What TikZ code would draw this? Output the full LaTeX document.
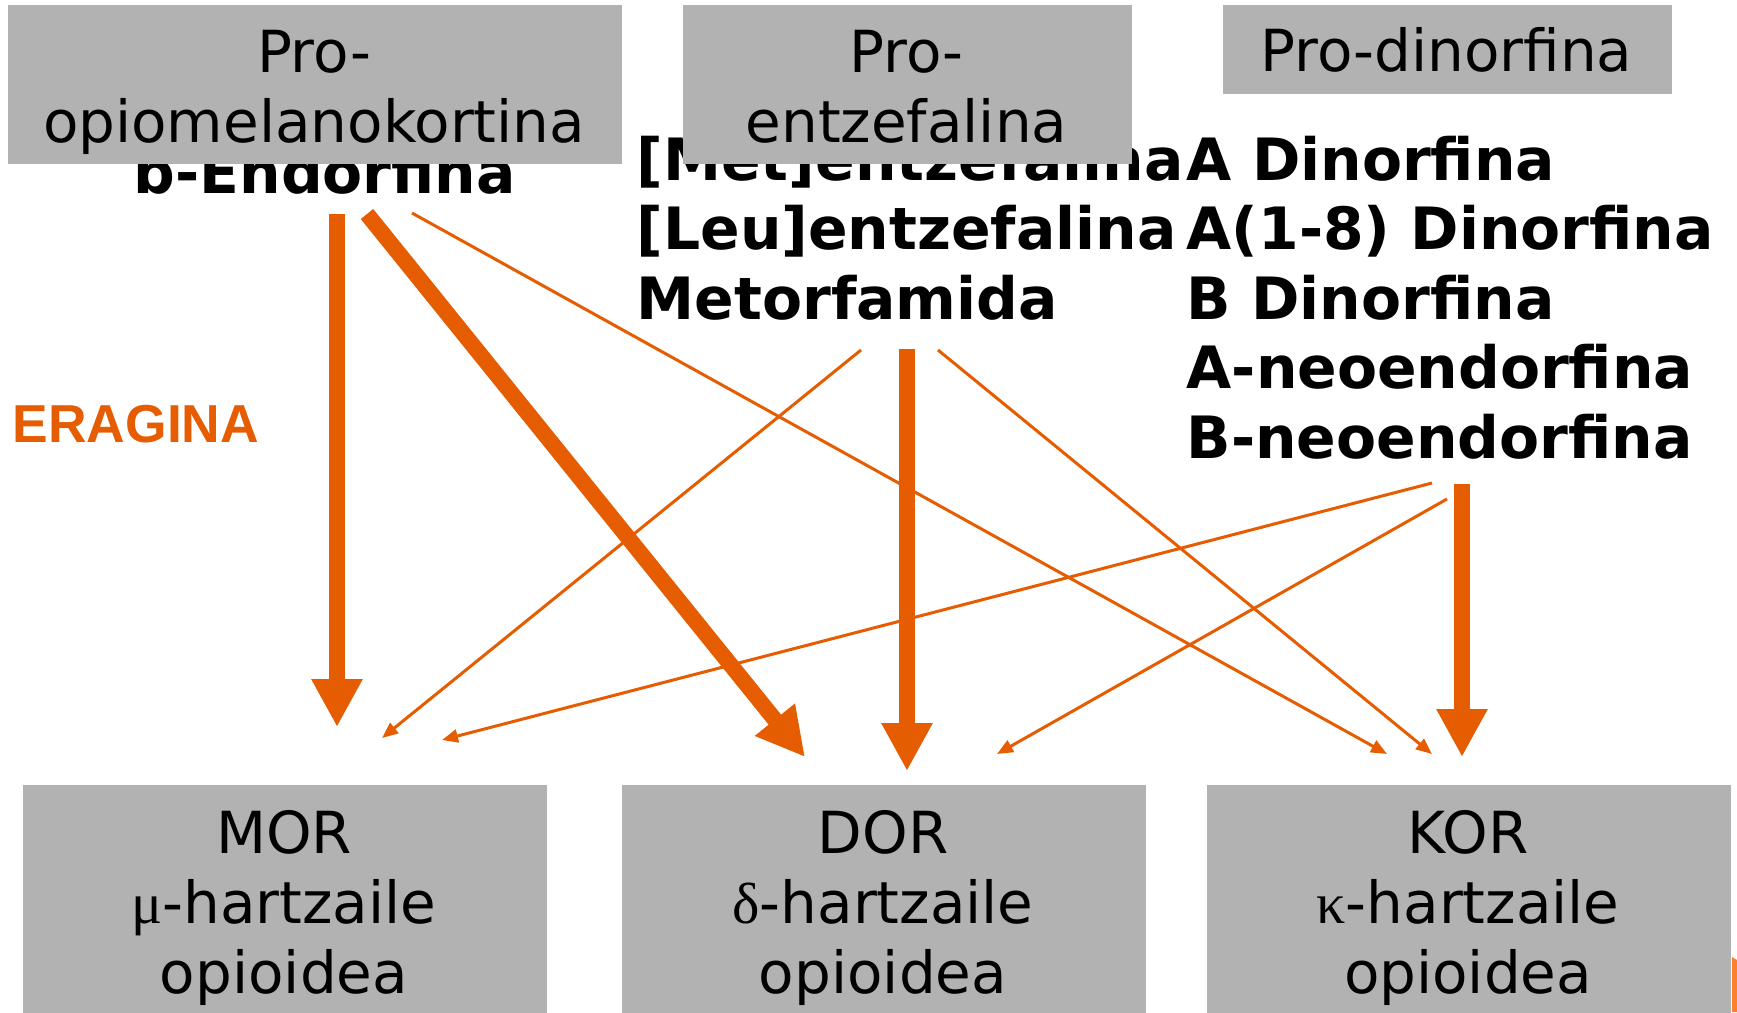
\documentclass[tikz,border=0pt]{standalone}
\usepackage{fontspec}
\setmainfont{DejaVu Sans}
\newfontfamily\arialfont{Liberation Sans}
\newfontfamily\greekfont{Liberation Serif}
\usetikzlibrary{arrows.meta}
\definecolor{orng}{RGB}{230,92,0}
\definecolor{lightorng}{RGB}{250,130,45}
\definecolor{boxgray}{RGB}{178,178,178}
\newcommand{\grk}[1]{{\greekfont #1}}
\tikzset{
	greybox/.style={
			rectangle, fill=boxgray, draw=none,
			inner sep=0pt, anchor=north west,
		},
	% multi-line texts are placed by the baseline of their last line
	boxtext/.style={
			align=center, anchor=base, inner sep=0pt,
			font=\fontsize{16.5}{19.9}\selectfont,
		},
	peptide/.style={
			align=left, anchor=base west, inner sep=0pt,
			font=\bfseries\fontsize{16.6}{19.77}\selectfont,
		},
	bigarrow/.style={draw=orng, line width=1.6mm, -{Triangle[length=4.8mm,width=4.8mm]}},
	smallarrow/.style={draw=orng, line width=0.3mm, -{Triangle[length=1.6mm,width=1.3mm]}},
}

\begin{document}
\begin{tikzpicture}
	\useasboundingbox (0,0) rectangle (17.37,-10.12);

	% peptides (partly hidden by the precursor boxes)
	\node [peptide] (bend) at (1.33,-1.93) {b-Endorfina};
	\node [peptide] (penk-pep) at (6.36,-3.19)
	{[Met]entzefalina\\{[}Leu]entzefalina\\Metorfamida};
	\node [peptide] (pdyn-pep) at (11.86,-4.58)
	{A Dinorfina\\A(1-8) Dinorfina\\B Dinorfina\\A-neoendorfina\\B-neoendorfina};

	\node [font=\arialfont\bfseries\fontsize{15.2}{18}\selectfont, text=orng,
		anchor=base west, inner sep=0pt] (eragina) at (0.12,-4.42) {ERAGINA};

	% precursors
	\node [greybox, minimum width=6.14cm, minimum height=1.59cm] (pomc) at (0.07,-0.04) {};
	\node [greybox, minimum width=4.49cm, minimum height=1.59cm] (penk) at (6.82,-0.04) {};
	\node [greybox, minimum width=4.49cm, minimum height=0.89cm] (pdyn) at (12.22,-0.04) {};
	\node [boxtext] (pomc-txt) at (3.14,-1.42) {Pro-\\opiomelanokortina};
	\node [boxtext] (penk-txt) at (9.065,-1.42) {Pro-\\entzefalina};
	\node [boxtext] (pdyn-txt) at (14.465,-0.71) {Pro-dinorfina};

	% receptors
	\fill [lightorng] (17.32,-9.57) -- (17.37,-9.60) -- (17.37,-10.12) -- (17.32,-10.12) -- cycle;
	\node [greybox, minimum width=5.24cm, minimum height=2.28cm] (mor) at (0.22,-7.84) {};
	\node [greybox, minimum width=5.24cm, minimum height=2.28cm] (dor) at (6.21,-7.84) {};
	\node [greybox, minimum width=5.24cm, minimum height=2.28cm] (kor) at (12.06,-7.84) {};
	\node [boxtext] (mor-txt) at (2.84,-9.93) {MOR\\\grk{μ}-hartzaile\\opioidea};
	\node [boxtext] (dor-txt) at (8.83,-9.93) {DOR\\\grk{δ}-hartzaile\\opioidea};
	\node [boxtext] (kor-txt) at (14.68,-9.93) {KOR\\\grk{κ}-hartzaile\\opioidea};

	% arrow ends
	\coordinate (bend-s1) at (3.37,-2.14);
	\coordinate (bend-s2) at (3.67,-2.14);
	\coordinate (bend-s3) at (4.12,-2.13);
	\coordinate (met-s1) at (8.61,-3.50);
	\coordinate (met-s2) at (9.07,-3.49);
	\coordinate (met-s3) at (9.38,-3.50);
	\coordinate (neo-s1) at (14.32,-4.83);
	\coordinate (neo-s2) at (14.47,-4.99);
	\coordinate (neo-s3) at (14.62,-4.84);

	\coordinate (mor-e1) at (3.37,-7.27);
	\coordinate (mor-e2) at (3.82,-7.38);
	\coordinate (mor-e3) at (4.42,-7.40);
	\coordinate (dor-e1) at (8.05,-7.57);
	\coordinate (dor-e2) at (9.07,-7.71);
	\coordinate (dor-e3) at (9.97,-7.54);
	\coordinate (kor-e1) at (13.87,-7.54);
	\coordinate (kor-e2) at (14.32,-7.54);
	\coordinate (kor-e3) at (14.62,-7.57);

	\draw [bigarrow] (bend-s1) -- (mor-e1);
	\draw [bigarrow] (bend-s2) -- (dor-e1);
	\draw [bigarrow] (met-s2) -- (dor-e2);
	\draw [bigarrow] (neo-s3) -- (kor-e3);

	\draw [smallarrow] (bend-s3) -- (kor-e1);
	\draw [smallarrow] (met-s1) -- (mor-e2);
	\draw [smallarrow] (met-s3) -- (kor-e2);
	\draw [smallarrow] (neo-s1) -- (mor-e3);
	\draw [smallarrow] (neo-s2) -- (dor-e3);

\end{tikzpicture}
\end{document}
